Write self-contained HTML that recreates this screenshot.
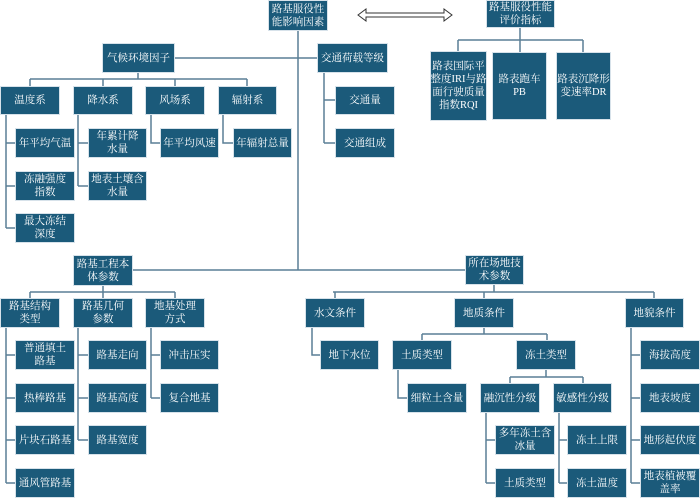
<!DOCTYPE html>
<html><head><meta charset="utf-8"><style>
html,body{margin:0;padding:0;background:#fff;}
body{width:700px;height:498px;position:relative;overflow:hidden;}
.b{position:absolute;display:flex;align-items:center;justify-content:center;text-align:center;background:#1b5a7a;color:#fff;font-family:"Liberation Serif","Noto Serif CJK SC",serif;font-size:10.5px;line-height:13px;box-sizing:border-box;border:1px solid #d7e2ea;letter-spacing:0;white-space:nowrap;}
svg{position:absolute;left:0;top:0;}
</style></head><body>
<svg width="700" height="498">
<g stroke="#5a7f95" stroke-width="1.5" fill="none">
<path d="M298 31V270M175 58H317M133 270H465"/>
<path d="M138 73V79M30 79H247M30 79V86M103 79V86M175 79V86M247 79V86"/>
<path d="M6 115V228M6 143H15M6 186H15M6 228H15"/>
<path d="M78 115V186M78 143H88M78 186H88"/>
<path d="M151 115V143H160M223 115V143H233"/>
<path d="M324 73V143M324 100H335M324 143H335"/>
<path d="M520 28V40M458 40H583M458 40V51M520 40V52M583 40V52"/>
<path d="M103 286V292M30 292H175M30 292V299M103 292V299M175 292V299"/>
<path d="M6 328V483M6 355H15M6 398H15M6 440H15M6 483H15"/>
<path d="M78 328V440M78 355H88M78 398H88M78 440H88"/>
<path d="M151 328V398M151 355H160M151 398H160"/>
<path d="M494 285V292M333 292H654M335 292V298M484 292V298M654 292V298"/>
<path d="M312 328V355H320"/>
<path d="M484 328V334M422 334H547M422 334V340M547 334V340"/>
<path d="M398 370V398H407"/>
<path d="M546 370V377M510 377H583M510 377V383M583 377V383"/>
<path d="M486 413V483M486 440H495M486 483H495"/>
<path d="M559 413V483M559 440H567M559 483H567"/>
<path d="M631 328V483M631 355H640M631 398H640M631 440H640M631 483H640"/>
</g>
<polygon points="358,15 366,9 366,13 444,13 444,9 452,15 444,21 444,17 366,17 366,21" fill="#fff" stroke="#333" stroke-width="1"/>
</svg>

<div class="b" style="left:268px;top:0;width:60px;height:31px">路基服役性<br>能影响因素</div>
<div class="b" style="left:486px;top:0;width:69px;height:28px">路基服役性能<br>评价指标</div>

<div class="b" style="left:102px;top:43px;width:73px;height:30px">气候环境因子</div>
<div class="b" style="left:317px;top:43px;width:71px;height:30px">交通荷载等级</div>

<div class="b" style="left:0;top:86px;width:60px;height:29px">温度系</div>
<div class="b" style="left:73px;top:86px;width:60px;height:29px">降水系</div>
<div class="b" style="left:145px;top:86px;width:60px;height:29px">风场系</div>
<div class="b" style="left:218px;top:86px;width:59px;height:29px">辐射系</div>
<div class="b" style="left:335px;top:86px;width:60px;height:29px">交通量</div>
<div class="b" style="left:335px;top:128px;width:60px;height:30px">交通组成</div>

<div class="b" style="left:15px;top:128px;width:60px;height:30px">年平均气温</div>
<div class="b" style="left:15px;top:171px;width:60px;height:30px">冻融强度<br>指数</div>
<div class="b" style="left:15px;top:213px;width:60px;height:30px">最大冻结<br>深度</div>
<div class="b" style="left:88px;top:128px;width:59px;height:30px">年累计降<br>水量</div>
<div class="b" style="left:88px;top:171px;width:59px;height:30px">地表土壤含<br>水量</div>
<div class="b" style="left:160px;top:128px;width:59px;height:30px">年平均风速</div>
<div class="b" style="left:233px;top:128px;width:59px;height:30px">年辐射总量</div>

<div class="b" style="left:430px;top:51px;width:57px;height:70px">路表国际平<br>整度IRI与路<br>面行驶质量<br>指数RQI</div>
<div class="b" style="left:492px;top:52px;width:55px;height:68px">路表跑车<br>PB</div>
<div class="b" style="left:556px;top:52px;width:55px;height:68px">路表沉降形<br>变速率DR</div>

<div class="b" style="left:73px;top:255px;width:60px;height:31px">路基工程本<br>体参数</div>
<div class="b" style="left:465px;top:255px;width:59px;height:30px">所在场地技<br>术参数</div>

<div class="b" style="left:0;top:298px;width:60px;height:30px">路基结构<br>类型</div>
<div class="b" style="left:73px;top:298px;width:60px;height:30px">路基几何<br>参数</div>
<div class="b" style="left:145px;top:298px;width:60px;height:30px">地基处理<br>方式</div>

<div class="b" style="left:15px;top:340px;width:60px;height:30px">普通填土<br>路基</div>
<div class="b" style="left:15px;top:383px;width:60px;height:30px">热棒路基</div>
<div class="b" style="left:15px;top:425px;width:60px;height:30px">片块石路基</div>
<div class="b" style="left:15px;top:468px;width:60px;height:30px">通风管路基</div>
<div class="b" style="left:88px;top:340px;width:59px;height:30px">路基走向</div>
<div class="b" style="left:88px;top:383px;width:59px;height:30px">路基高度</div>
<div class="b" style="left:88px;top:425px;width:59px;height:30px">路基宽度</div>
<div class="b" style="left:160px;top:340px;width:59px;height:30px">冲击压实</div>
<div class="b" style="left:160px;top:383px;width:59px;height:30px">复合地基</div>

<div class="b" style="left:305px;top:298px;width:60px;height:30px">水文条件</div>
<div class="b" style="left:454px;top:298px;width:60px;height:30px">地质条件</div>
<div class="b" style="left:625px;top:298px;width:59px;height:30px">地貌条件</div>

<div class="b" style="left:320px;top:340px;width:59px;height:30px">地下水位</div>
<div class="b" style="left:392px;top:340px;width:60px;height:30px">土质类型</div>
<div class="b" style="left:516px;top:340px;width:60px;height:30px">冻土类型</div>
<div class="b" style="left:407px;top:383px;width:60px;height:30px">细粒土含量</div>
<div class="b" style="left:480px;top:383px;width:60px;height:30px">融沉性分级</div>
<div class="b" style="left:553px;top:383px;width:59px;height:30px">敏感性分级</div>
<div class="b" style="left:495px;top:425px;width:60px;height:30px">多年冻土含<br>冰量</div>
<div class="b" style="left:495px;top:468px;width:60px;height:30px">土质类型</div>
<div class="b" style="left:567px;top:425px;width:60px;height:30px">冻土上限</div>
<div class="b" style="left:567px;top:468px;width:60px;height:30px">冻土温度</div>

<div class="b" style="left:640px;top:340px;width:60px;height:30px">海拔高度</div>
<div class="b" style="left:640px;top:383px;width:60px;height:30px">地表坡度</div>
<div class="b" style="left:640px;top:425px;width:60px;height:30px">地形起伏度</div>
<div class="b" style="left:640px;top:468px;width:60px;height:30px">地表植被覆<br>盖率</div>
</body></html>
